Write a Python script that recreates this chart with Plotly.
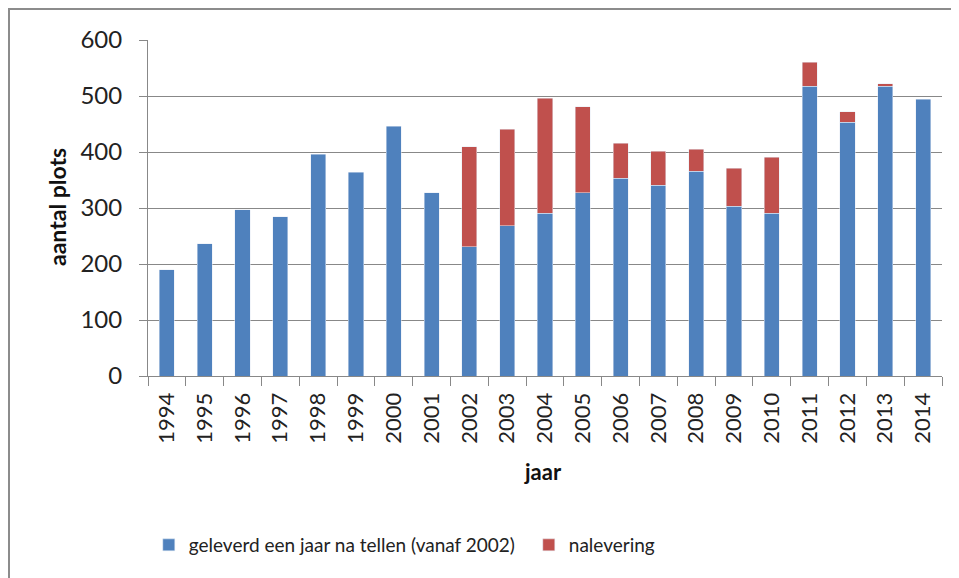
import plotly.graph_objects as go

# Data
years = [str(y) for y in range(1994, 2015)]
geleverd = [190, 236, 297, 284, 396, 364, 446, 327, 231, 268, 291,
            327, 353, 341, 366, 303, 291, 517, 453, 517, 494]
nalevering = [None, None, None, None, None, None, None, None, 178, 173, 205,
              154, 63, 60, 39, 68, 100, 43, 19, 5, None]

BLUE = "#4F81BD"
RED = "#C0504D"
GRID = "#888888"
FONT = "Lato, Open Sans, sans-serif"

# page body has an 8px margin, so the figure is drawn 8px smaller and shifted
fig = go.Figure()
fig.add_trace(go.Bar(x=years, y=geleverd, name="geleverd een jaar na tellen (vanaf 2002)",
                     marker=dict(color=BLUE)))
fig.add_trace(go.Bar(x=years, y=nalevering, name="nalevering",
                     marker=dict(color=RED)))

fig.update_layout(
    barmode="stack",
    bargap=0.6,
    width=951, height=570,
    margin=dict(l=140, r=17, t=32, b=202, autoexpand=False),
    plot_bgcolor="white",
    paper_bgcolor="white",
    font=dict(family=FONT, color="#222222"),
    legend=dict(orientation="h", x=0.001, xanchor="left", y=(376 - 545) / 336, yanchor="middle",
                font=dict(size=19, family=FONT), entrywidth=335,
                traceorder="normal", itemwidth=30),
)

fig.update_xaxes(type="category", tickangle=-90, tickfont=dict(size=22),
                 showline=True, linecolor=GRID, linewidth=1,
                 ticks="outside", ticklen=9, tickcolor=GRID, tickson="boundaries",
                 ticklabelstandoff=7, showgrid=False)
fig.update_yaxes(range=[0, 600], dtick=100, tickfont=dict(size=24),
                 showline=True, linecolor=GRID, linewidth=1,
                 ticks="outside", ticklen=8, tickcolor=GRID, ticklabelstandoff=12,
                 showgrid=True, gridcolor=GRID, gridwidth=1, zeroline=False)

# axis titles
fig.add_annotation(text="<b>aantal plots</b>", xref="paper", yref="paper",
                   x=(57 - 148) / 794, y=(376 - 207) / 336, xanchor="center", yanchor="middle",
                   textangle=-90, showarrow=False,
                   font=dict(size=23, family=FONT, color="#111111"))
fig.add_annotation(text="<b>jaar</b>", xref="paper", yref="paper",
                   x=(543 - 148) / 794, y=(376 - 472) / 336, xanchor="center", yanchor="middle",
                   showarrow=False,
                   font=dict(size=22, family=FONT, color="#111111"))

# outer chart border
fig.add_shape(type="rect", xref="paper", yref="paper",
              x0=(9 - 148) / 794, x1=(965 - 148) / 794,
              y0=(376 - 590) / 336, y1=(376 - 9) / 336,
              line=dict(color="#8C8C8C", width=2), fillcolor="rgba(0,0,0,0)", layer="below")

fig.write_html("out.html")
